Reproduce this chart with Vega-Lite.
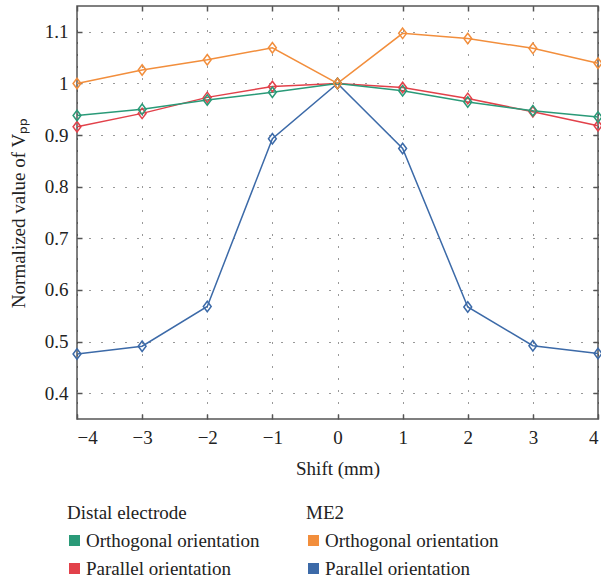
{
  "$schema": "https://vega.github.io/schema/vega-lite/v6.json",
  "autosize": {"type": "none"},
  "padding": {"left": 77, "top": 6, "right": 3, "bottom": 161},
  "width": 521,
  "height": 413,
  "background": "white",
  "config": {
    "view": {"stroke": "#555555", "strokeWidth": 1.5},
    "font": "Liberation Serif",
    "axis": {
      "labelFont": "Liberation Serif",
      "labelFontSize": 19,
      "labelColor": "#222222",
      "titleFont": "Liberation Serif",
      "titleFontSize": 19,
      "titleFontWeight": "normal",
      "titleColor": "#222222",
      "tickColor": "#555555",
      "tickSize": -5,
      "tickWidth": 1.5,
      "domain": false,
      "gridColor": "#333333",
      "gridDash": [1, 11],
      "gridWidth": 1
    },
    "legend": {
      "titleFont": "Liberation Serif",
      "titleFontSize": 19,
      "titleFontWeight": "normal",
      "titleColor": "#222222",
      "titleLimit": 400,
      "labelFont": "Liberation Serif",
      "labelFontSize": 19,
      "labelColor": "#222222",
      "labelLimit": 400,
      "symbolType": "square",
      "symbolSize": 121,
      "symbolStrokeWidth": 0,
      "symbolOpacity": 1,
      "symbolOffset": -2,
      "labelOffset": 2,
      "rowPadding": 8,
      "titlePadding": 8
    }
  },
  "data": {
    "values": [
      {"shift": -4, "value": 0.476, "electrode": "ME2", "orientation": "Parallel orientation", "series": "ME2 Parallel"},
      {"shift": -3, "value": 0.491, "electrode": "ME2", "orientation": "Parallel orientation", "series": "ME2 Parallel"},
      {"shift": -2, "value": 0.568, "electrode": "ME2", "orientation": "Parallel orientation", "series": "ME2 Parallel"},
      {"shift": -1, "value": 0.893, "electrode": "ME2", "orientation": "Parallel orientation", "series": "ME2 Parallel"},
      {"shift": 0, "value": 1.0, "electrode": "ME2", "orientation": "Parallel orientation", "series": "ME2 Parallel"},
      {"shift": 1, "value": 0.874, "electrode": "ME2", "orientation": "Parallel orientation", "series": "ME2 Parallel"},
      {"shift": 2, "value": 0.567, "electrode": "ME2", "orientation": "Parallel orientation", "series": "ME2 Parallel"},
      {"shift": 3, "value": 0.492, "electrode": "ME2", "orientation": "Parallel orientation", "series": "ME2 Parallel"},
      {"shift": 4, "value": 0.477, "electrode": "ME2", "orientation": "Parallel orientation", "series": "ME2 Parallel"},
      {"shift": -4, "value": 0.916, "electrode": "Distal", "orientation": "Parallel orientation", "series": "Distal Parallel"},
      {"shift": -3, "value": 0.942, "electrode": "Distal", "orientation": "Parallel orientation", "series": "Distal Parallel"},
      {"shift": -2, "value": 0.973, "electrode": "Distal", "orientation": "Parallel orientation", "series": "Distal Parallel"},
      {"shift": -1, "value": 0.994, "electrode": "Distal", "orientation": "Parallel orientation", "series": "Distal Parallel"},
      {"shift": 0, "value": 1.0, "electrode": "Distal", "orientation": "Parallel orientation", "series": "Distal Parallel"},
      {"shift": 1, "value": 0.992, "electrode": "Distal", "orientation": "Parallel orientation", "series": "Distal Parallel"},
      {"shift": 2, "value": 0.971, "electrode": "Distal", "orientation": "Parallel orientation", "series": "Distal Parallel"},
      {"shift": 3, "value": 0.945, "electrode": "Distal", "orientation": "Parallel orientation", "series": "Distal Parallel"},
      {"shift": 4, "value": 0.918, "electrode": "Distal", "orientation": "Parallel orientation", "series": "Distal Parallel"},
      {"shift": -4, "value": 0.938, "electrode": "Distal", "orientation": "Orthogonal orientation", "series": "Distal Orthogonal"},
      {"shift": -3, "value": 0.950, "electrode": "Distal", "orientation": "Orthogonal orientation", "series": "Distal Orthogonal"},
      {"shift": -2, "value": 0.968, "electrode": "Distal", "orientation": "Orthogonal orientation", "series": "Distal Orthogonal"},
      {"shift": -1, "value": 0.983, "electrode": "Distal", "orientation": "Orthogonal orientation", "series": "Distal Orthogonal"},
      {"shift": 0, "value": 1.0, "electrode": "Distal", "orientation": "Orthogonal orientation", "series": "Distal Orthogonal"},
      {"shift": 1, "value": 0.986, "electrode": "Distal", "orientation": "Orthogonal orientation", "series": "Distal Orthogonal"},
      {"shift": 2, "value": 0.964, "electrode": "Distal", "orientation": "Orthogonal orientation", "series": "Distal Orthogonal"},
      {"shift": 3, "value": 0.947, "electrode": "Distal", "orientation": "Orthogonal orientation", "series": "Distal Orthogonal"},
      {"shift": 4, "value": 0.935, "electrode": "Distal", "orientation": "Orthogonal orientation", "series": "Distal Orthogonal"},
      {"shift": -4, "value": 1.0, "electrode": "ME2", "orientation": "Orthogonal orientation", "series": "ME2 Orthogonal"},
      {"shift": -3, "value": 1.026, "electrode": "ME2", "orientation": "Orthogonal orientation", "series": "ME2 Orthogonal"},
      {"shift": -2, "value": 1.046, "electrode": "ME2", "orientation": "Orthogonal orientation", "series": "ME2 Orthogonal"},
      {"shift": -1, "value": 1.069, "electrode": "ME2", "orientation": "Orthogonal orientation", "series": "ME2 Orthogonal"},
      {"shift": 0, "value": 1.0, "electrode": "ME2", "orientation": "Orthogonal orientation", "series": "ME2 Orthogonal"},
      {"shift": 1, "value": 1.097, "electrode": "ME2", "orientation": "Orthogonal orientation", "series": "ME2 Orthogonal"},
      {"shift": 2, "value": 1.087, "electrode": "ME2", "orientation": "Orthogonal orientation", "series": "ME2 Orthogonal"},
      {"shift": 3, "value": 1.068, "electrode": "ME2", "orientation": "Orthogonal orientation", "series": "ME2 Orthogonal"},
      {"shift": 4, "value": 1.039, "electrode": "ME2", "orientation": "Orthogonal orientation", "series": "ME2 Orthogonal"}
    ]
  },
  "layer": [
    {
      "encoding": {
        "x": {"field": "shift", "type": "quantitative", "scale": {"domain": [-4, 4], "nice": false, "zero": false}},
        "y": {"field": "value", "type": "quantitative", "scale": {"domain": [0.35, 1.15], "nice": false, "zero": false}},
        "color": {
          "field": "series", "type": "nominal",
          "scale": {"domain": ["ME2 Parallel", "Distal Parallel", "Distal Orthogonal", "ME2 Orthogonal"], "range": ["#3c6aa8", "#e2414a", "#2a9a78", "#f28e3c"]},
          "legend": null
        }
      },
      "layer": [
        {
          "mark": {"type": "line", "strokeWidth": 1.5},
          "encoding": {
            "x": {"field": "shift", "type": "quantitative", "axis": {"orient": "bottom", "title": "Shift (mm)", "values": [-4, -3, -2, -1, 0, 1, 2, 3, 4], "grid": true, "labelPadding": 14, "titlePadding": 12}},
            "y": {"field": "value", "type": "quantitative", "axis": {"orient": "left", "title": "Normalized value of Vₚₚ", "values": [0.4, 0.5, 0.6, 0.7, 0.8, 0.9, 1.0, 1.1], "format": ".1~f", "grid": true, "labelPadding": 14, "titlePadding": 16}}
          }
        },
        {
          "mark": {"type": "point", "shape": "M0,-1L0.75,0L0,1L-0.75,0Z", "size": 110, "strokeWidth": 1.5, "filled": false, "opacity": 1},
          "encoding": {
            "x": {"field": "shift", "type": "quantitative", "axis": {"orient": "top", "title": null, "labels": false, "values": [-4, -3, -2, -1, 0, 1, 2, 3, 4], "grid": false}},
            "y": {"field": "value", "type": "quantitative", "axis": {"orient": "right", "title": null, "labels": false, "values": [0.4, 0.5, 0.6, 0.7, 0.8, 0.9, 1.0, 1.1], "grid": false}}
          }
        }
      ],
      "resolve": {"axis": {"x": "independent", "y": "independent"}}
    },
    {
      "transform": [{"filter": "datum.electrode === 'Distal'"}],
      "mark": {"type": "point", "shape": "square", "filled": true, "size": 0, "opacity": 1},
      "encoding": {
        "fill": {
          "field": "orientation", "type": "nominal",
          "scale": {"domain": ["Orthogonal orientation", "Parallel orientation"], "range": ["#2a9a78", "#e2414a"]},
          "legend": {"title": "Distal electrode", "orient": "none", "legendX": -10, "legendY": 498}
        }
      }
    },
    {
      "transform": [{"filter": "datum.electrode === 'ME2'"}],
      "mark": {"type": "point", "shape": "square", "filled": true, "size": 0, "opacity": 1},
      "encoding": {
        "fill": {
          "field": "orientation", "type": "nominal",
          "scale": {"domain": ["Orthogonal orientation", "Parallel orientation"], "range": ["#f28e3c", "#3c6aa8"]},
          "legend": {"title": "ME2", "orient": "none", "legendX": 229, "legendY": 498}
        }
      }
    }
  ],
  "resolve": {"scale": {"fill": "independent"}, "legend": {"fill": "independent"}}
}
